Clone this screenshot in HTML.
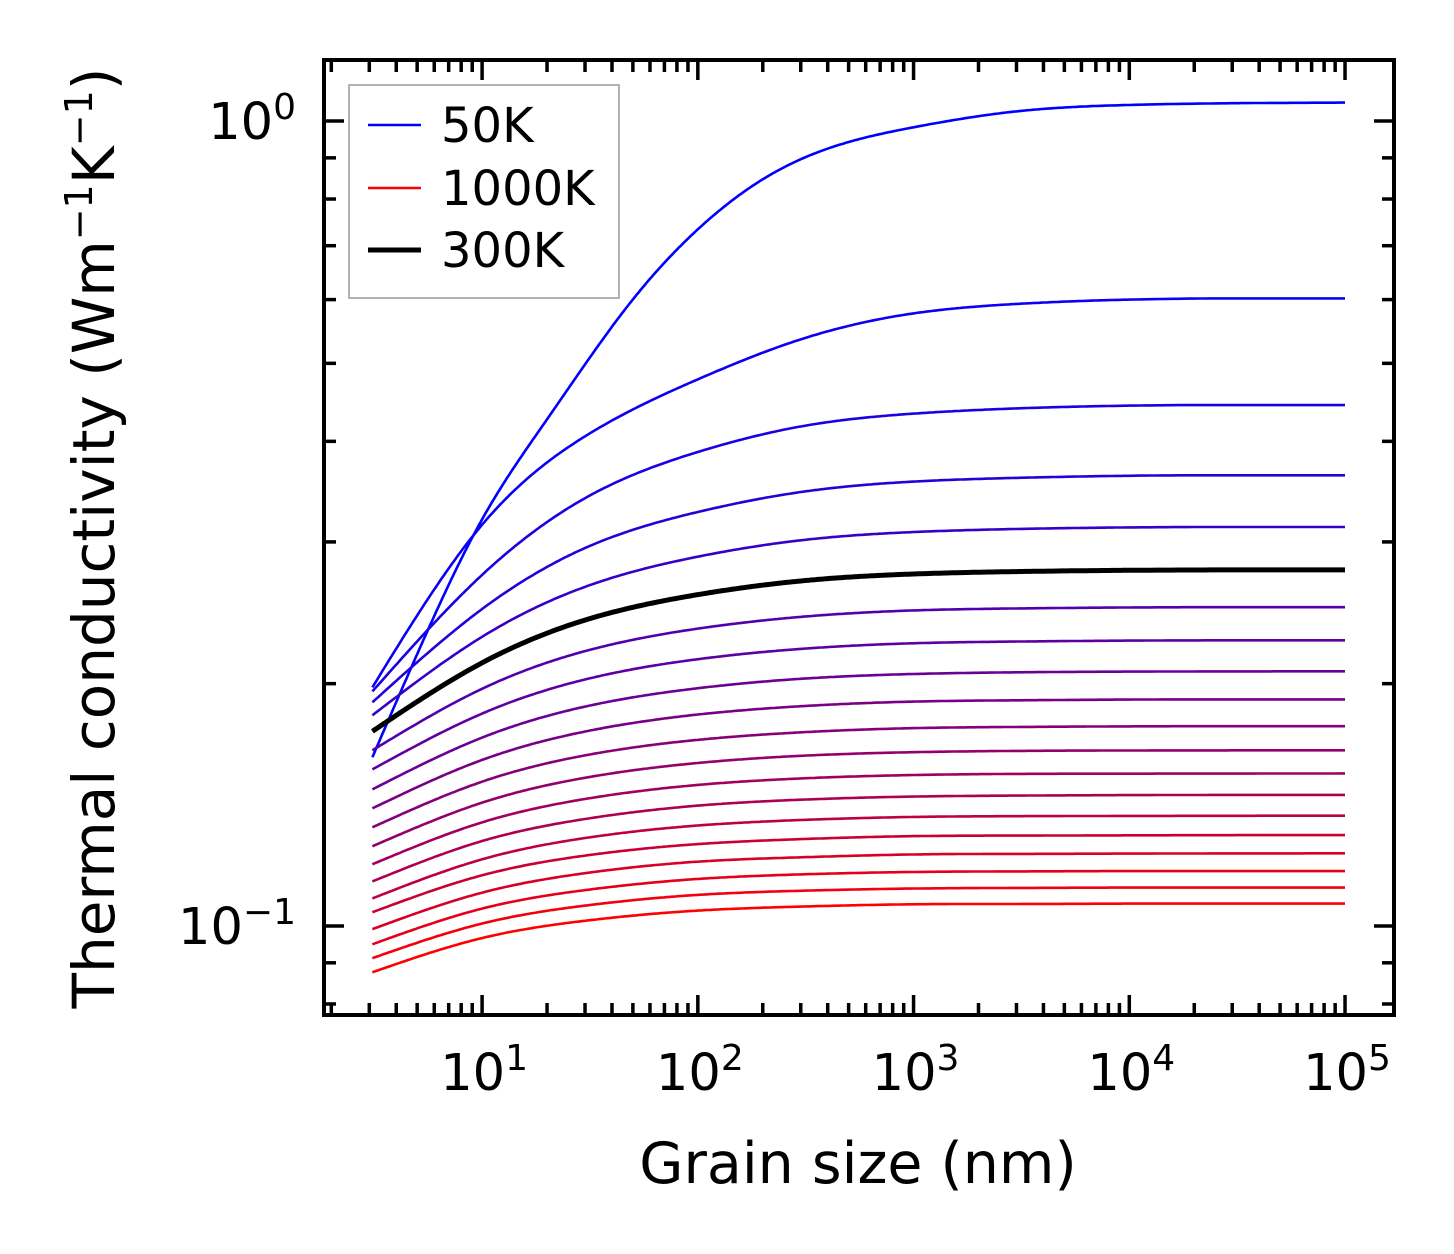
<!DOCTYPE html>
<html><head><meta charset="utf-8"><style>
html,body{margin:0;padding:0;background:#fff;}
svg{display:block;font-family:"DejaVu Sans","Liberation Sans",sans-serif;}
</style></head><body>
<svg id="chart" width="1454" height="1254" viewBox="0 0 1454 1254">
<rect width="1454" height="1254" fill="#fff"/>
<g id="curves"></g>
<g id="ticks"></g>
<rect x="324" y="60" width="1070" height="955" fill="none" stroke="#000" stroke-width="4"/>
<g id="xlabels" font-size="51" text-anchor="middle"></g>
<g id="ylabels" font-size="51" text-anchor="end"></g>
<text x="858" y="1183" font-size="57" text-anchor="middle">Grain size (nm)</text>
<text transform="translate(114,538) rotate(-90)" font-size="58" text-anchor="middle">Thermal conductivity (Wm<tspan baseline-shift="super" font-size="38">−1</tspan>K<tspan baseline-shift="super" font-size="38">−1</tspan>)</text>
<g>
<rect x="349" y="85" width="270" height="213" fill="#fff" stroke="#999" stroke-width="1.5"/>
<line x1="368" y1="125" x2="421" y2="125" stroke="#0000ff" stroke-width="2.5"/>
<text x="441" y="142" font-size="48">50K</text>
<line x1="368" y1="188" x2="421" y2="188" stroke="#ff0000" stroke-width="2.5"/>
<text x="441" y="205" font-size="48">1000K</text>
<line x1="368" y1="250" x2="421" y2="250" stroke="#000" stroke-width="5"/>
<text x="441" y="267" font-size="48">300K</text>
</g>
</svg>
<script>
// ---- data ----
const temps = [50,100,150,200,250,300,350,400,450,500,550,600,650,700,750,800,850,900,950,1000];
const sizes50 = [3.1,5,10,20,30,50,100,200,300,1000,3000,10000,100000];
const k50 = [0.162,0.2176,0.3200,0.4260,0.4985,0.6003,0.7336,0.8464,0.8964,0.9822,1.028,1.047,1.054];
const sizes = [3.1,10,30,100,300,1000,3000,10000,100000];
const k100 = [0.1979,0.3151,0.4058,0.4776,0.5355,0.5768,0.5926,0.600,0.602];
const k150 = [0.1956,0.273,0.340,0.388,0.4174,0.433,0.4395,0.4430,0.4437];
const k200 = [0.1896,0.2476,0.2948,0.3268,0.3460,0.3565,0.3603,0.3625,0.3630];
const k250 = [0.1827,0.2287,0.2638,0.2876,0.3014,0.3086,0.3113,0.3127,0.3131];
const k300 = [0.1745,0.2123,0.2399,0.2580,0.2683,0.2737,0.2756,0.2766,0.2769];
const k350 = [0.1653,0.1971,0.2195,0.2341,0.2421,0.2466,0.2480,0.2487,0.2489];
const k400 = [0.1565,0.1836,0.2024,0.2145,0.2209,0.2245,0.2256,0.2262,0.2264];
const k450 = [0.1478,0.1714,0.1873,0.1974,0.2028,0.2056,0.2066,0.2070,0.2072];
const k500 = [0.1400,0.1608,0.1744,0.1831,0.1875,0.1900,0.1907,0.1911,0.1912];
const k550 = [0.1326,0.1511,0.1629,0.1703,0.1740,0.1761,0.1767,0.1770,0.1771];
const k600 = [0.1256,0.1423,0.1528,0.1594,0.1627,0.1644,0.1650,0.1652,0.1653];
const k650 = [0.1193,0.1345,0.1438,0.1497,0.1525,0.1540,0.1545,0.1546,0.1547];
const k700 = [0.1136,0.1275,0.1358,0.1411,0.1435,0.1448,0.1452,0.1454,0.1455];
const k750 = [0.1082,0.1210,0.1286,0.1333,0.1354,0.1366,0.1369,0.1370,0.1371];
const k800 = [0.1040,0.1156,0.1223,0.1264,0.1282,0.1293,0.1295,0.1296,0.1297];
const k850 = [0.0991,0.1100,0.1163,0.1202,0.1217,0.1227,0.1229,0.1230,0.1231];
const k900 = [0.0949,0.1051,0.1108,0.1144,0.1159,0.1167,0.1169,0.1170,0.1170];
const k950 = [0.0912,0.1007,0.1060,0.1093,0.1106,0.1113,0.1115,0.1116,0.1116];
const k1000 = [0.0876,0.0966,0.1015,0.1045,0.1057,0.1064,0.1065,0.1066,0.1066];
const xTickExps = [1,2,3,4,5];
const yTickExps = [0,-1];

// ---- axes ----
const X0=324,X1=1394,Y0=60,Y1=1015;
const xLogMin=Math.log10(1.85), xLogMax=5.227;
const yLogMin=-1.1106, yLogMax=0.0758;
const sx=v=>X0+(Math.log10(v)-xLogMin)/(xLogMax-xLogMin)*(X1-X0);
const sy=v=>Y1-(Math.log10(v)-yLogMin)/(yLogMax-yLogMin)*(Y1-Y0);
const NS='http://www.w3.org/2000/svg';

// natural cubic spline in log-log space, clamped per interval to avoid overshoot
function spline(xs,ys,n){
  const X=xs.map(Math.log10),Y=ys.map(Math.log10),m=X.length;
  const h=[],a=[],b=[],c=[],r=[];
  for(let i=0;i<m-1;i++)h.push(X[i+1]-X[i]);
  const M=new Array(m).fill(0);
  const N=m-2;
  if(N>0){
    for(let i=1;i<=N;i++){
      a.push(h[i-1]);b.push(2*(h[i-1]+h[i]));c.push(h[i]);
      r.push(6*((Y[i+1]-Y[i])/h[i]-(Y[i]-Y[i-1])/h[i-1]));
    }
    for(let i=1;i<N;i++){const w=a[i]/b[i-1];b[i]-=w*c[i-1];r[i]-=w*r[i-1];}
    const sol=new Array(N);
    sol[N-1]=r[N-1]/b[N-1];
    for(let i=N-2;i>=0;i--)sol[i]=(r[i]-c[i]*sol[i+1])/b[i];
    for(let i=0;i<N;i++)M[i+1]=sol[i];
  }
  const pts=[];
  for(let i=0;i<m-1;i++){
    const lo=Math.min(Y[i],Y[i+1]),hi=Math.max(Y[i],Y[i+1]);
    for(let s=0;s<n;s++){
      const u=s/n,xx=X[i]+u*h[i];
      const A=1-u,B=u;
      let yv=A*Y[i]+B*Y[i+1]+((A*A*A-A)*M[i]+(B*B*B-B)*M[i+1])*h[i]*h[i]/6;
      yv=Math.max(lo,Math.min(hi,yv));
      pts.push([Math.pow(10,xx),Math.pow(10,yv)]);
    }
  }
  pts.push([xs[m-1],ys[m-1]]);
  return pts;
}

const series=[k50,k100,k150,k200,k250,k300,k350,k400,k450,k500,k550,k600,k650,k700,k750,k800,k850,k900,k950,k1000];
const gC=document.getElementById('curves');
let blackPath=null;
series.forEach((ks,i)=>{
  const T=temps[i];
  const xs=(i===0)?sizes50:sizes;
  const pts=spline(xs,ks,40);
  const d=pts.map((p,j)=>(j?'L':'M')+sx(p[0]).toFixed(1)+','+sy(p[1]).toFixed(1)).join('');
  const p=document.createElementNS(NS,'path');
  p.setAttribute('d',d);
  p.setAttribute('fill','none');
  p.setAttribute('stroke-linejoin','round');
  const tt=(T-50)/950;
  if(T===300){p.setAttribute('stroke','#000');p.setAttribute('stroke-width','5');}
  else{p.setAttribute('stroke','rgb('+Math.round(255*tt)+',0,'+Math.round(255*(1-tt))+')');p.setAttribute('stroke-width','2.6');}
  
  
  if(T===300)blackPath=p;else gC.appendChild(p);
});
gC.appendChild(blackPath);

// ---- ticks ----
const gT=document.getElementById('ticks');
function tick(x1,y1,x2,y2,name){
  const l=document.createElementNS(NS,'line');
  l.setAttribute('x1',x1);l.setAttribute('y1',y1);l.setAttribute('x2',x2);l.setAttribute('y2',y2);
  l.setAttribute('stroke','#000');l.setAttribute('stroke-width','3.5');
  
  
  gT.appendChild(l);
}
for(let e=0;e<=5;e++){for(let m=1;m<=9;m++){
  const v=m*Math.pow(10,e);const x=sx(v);
  if(x<X0+2||x>X1-2)continue;
  const L=(m===1)?20:12;
  tick(x,Y1,x,Y1-L,'x-tick');tick(x,Y0,x,Y0+L,'x-tick-top');
}}
for(let e=-2;e<=0;e++){for(let m=1;m<=9;m++){
  const v=m*Math.pow(10,e);const y=sy(v);
  if(y<Y0+2||y>Y1-2)continue;
  const L=(m===1)?20:12;
  tick(X0,y,X0+L,y,'y-tick');tick(X1,y,X1-L,y,'y-tick-right');
}}
// ---- tick labels ----
const gX=document.getElementById('xlabels');
xTickExps.forEach(e=>{
  const t=document.createElementNS(NS,'text');
  t.setAttribute('x',sx(Math.pow(10,e))+2);t.setAttribute('y',1090);
  t.innerHTML='10<tspan font-size="36" dy="-20">'+e+'</tspan>';
  
  
  gX.appendChild(t);
});
const gY=document.getElementById('ylabels');
yTickExps.forEach(e=>{
  const t=document.createElementNS(NS,'text');
  t.setAttribute('x',296);t.setAttribute('y',sy(Math.pow(10,e))+18);
  t.innerHTML='10<tspan font-size="36" dy="-20">'+(e<0?'−'+(-e):e)+'</tspan>';
  
  
  gY.appendChild(t);
});
</script>
</body></html>
